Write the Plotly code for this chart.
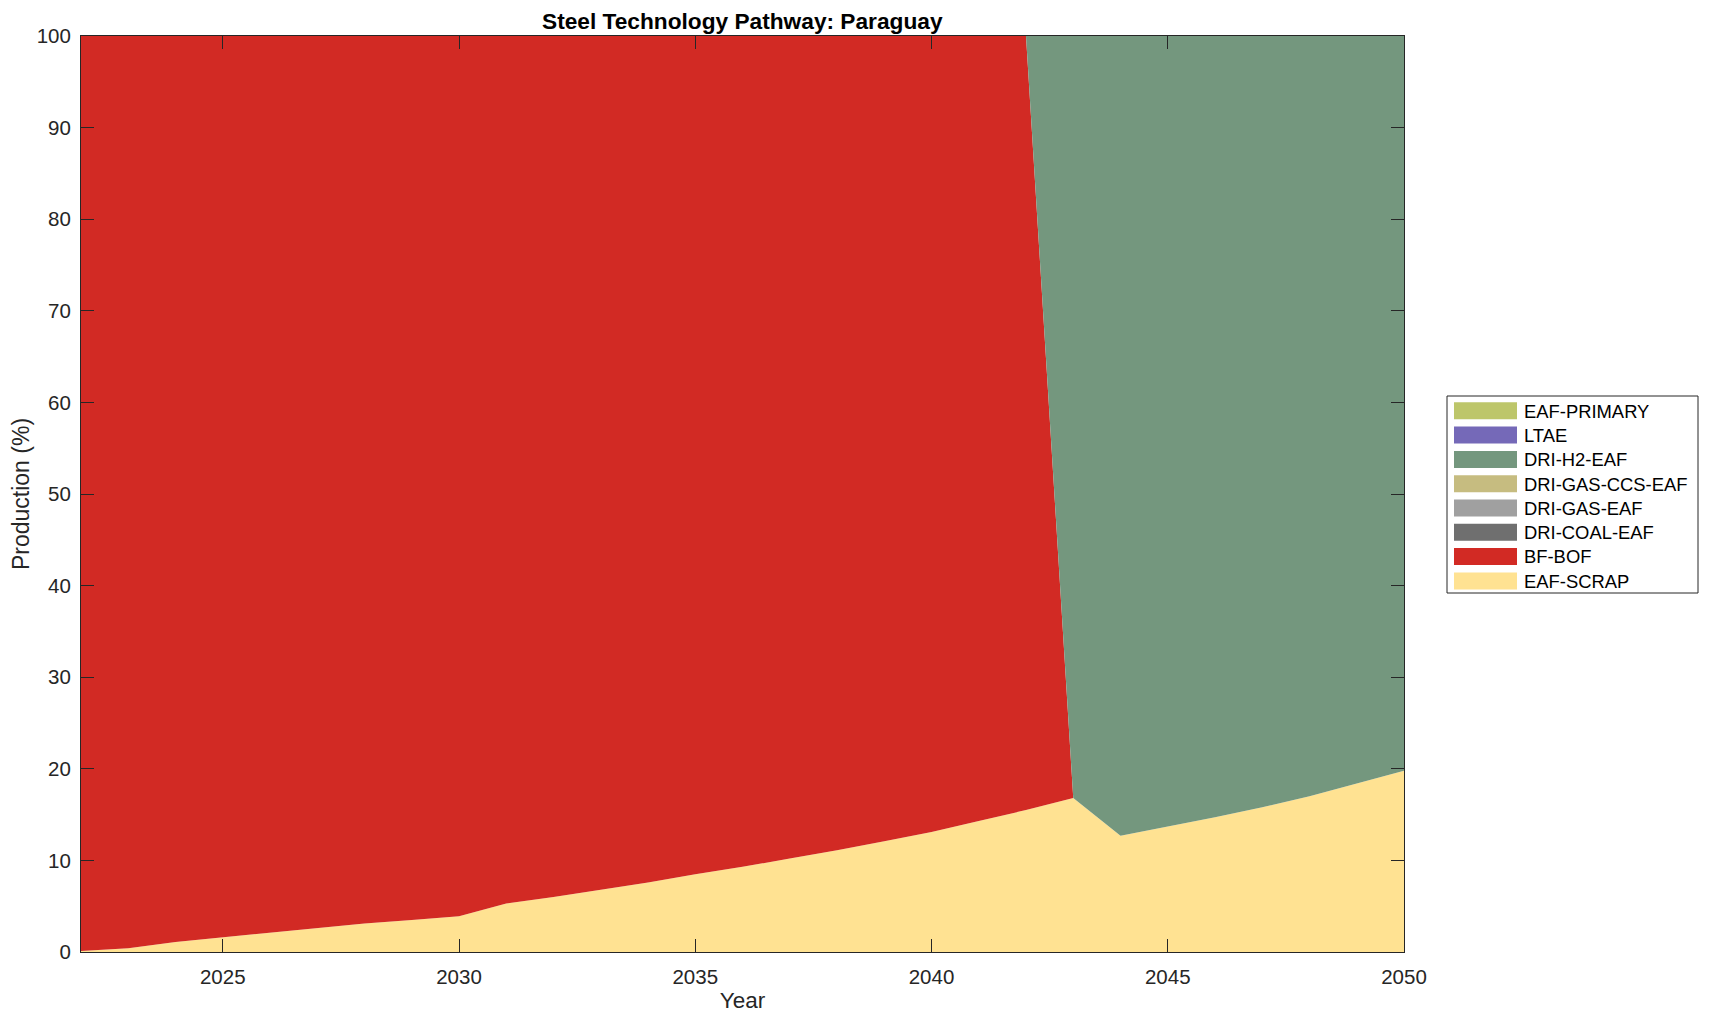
import plotly.graph_objects as go

years = list(range(2022, 2051))

tech_names = ["EAF-SCRAP", "BF-BOF", "DRI-COAL-EAF", "DRI-GAS-EAF",
              "DRI-GAS-CCS-EAF", "DRI-H2-EAF", "LTAE", "EAF-PRIMARY"]
tech_colors = ["#FFE292", "#D22A24", "#6F6F6F", "#A0A0A0",
               "#C6BC80", "#74977E", "#7569B8", "#BDC66A"]

eaf_scrap = [0.1, 0.4, 1.1, 1.6, 2.1, 2.6, 3.1, 3.5, 3.9, 5.3,
             6.0, 6.8, 7.6, 8.5, 9.3, 10.2, 11.1, 12.1, 13.1, 14.3,
             15.5, 16.8, 12.7, 13.7, 14.7, 15.8, 17.0, 18.4, 19.8]
bf_bof = [99.9, 99.6, 98.9, 98.4, 97.9, 97.4, 96.9, 96.5, 96.1, 94.7,
          94.0, 93.2, 92.4, 91.5, 90.7, 89.8, 88.9, 87.9, 86.9, 85.7,
          84.5, 0, 0, 0, 0, 0, 0, 0, 0]
dri_coal_eaf = [0] * 29
dri_gas_eaf = [0] * 29
dri_gas_ccs_eaf = [0] * 29
dri_h2_eaf = [0, 0, 0, 0, 0, 0, 0, 0, 0, 0,
              0, 0, 0, 0, 0, 0, 0, 0, 0, 0,
              0, 83.2, 87.3, 86.3, 85.3, 84.2, 83.0, 81.6, 80.2]
ltae = [0] * 29
eaf_primary = [0] * 29

series = [eaf_scrap, bf_bof, dri_coal_eaf, dri_gas_eaf,
          dri_gas_ccs_eaf, dri_h2_eaf, ltae, eaf_primary]

x_ticks = [2025, 2030, 2035, 2040, 2045, 2050]
y_ticks = list(range(0, 101, 10))

FONT = "Liberation Sans, Arial, Helvetica, sans-serif"
AX = "#262626"

fig = go.Figure()
for name, color, vals in zip(tech_names, tech_colors, series):
    fig.add_trace(go.Scatter(
        x=years, y=vals, name=name, mode="lines", stackgroup="one",
        line=dict(width=0, color=color), fillcolor=color, showlegend=False,
        hovertemplate=name + ": %{y:.1f}%<extra></extra>"))

# page body has an 8px default margin; compensate
OFF = 8
W, H = 1709 - 2 * OFF, 1021 - 2 * OFF
L, R, T, B = 81 - OFF, 1404 - OFF, 36 - OFF, 952 - OFF


def px_x(p):
    return (p - OFF - L) / (R - L)


def px_y(p):
    return (B - (p - OFF)) / (B - T)


shapes = [dict(type="rect", xref="paper", yref="paper",
               x0=px_x(1447), x1=px_x(1698), y0=px_y(593), y1=px_y(396),
               line=dict(color=AX, width=1), fillcolor="white", layer="above")]
annotations = []
legend_order = list(reversed(list(zip(tech_names, tech_colors))))
for i, (name, color) in enumerate(legend_order):
    top = 402.3 + 24.3 * i
    shapes.append(dict(type="rect", xref="paper", yref="paper",
                       x0=px_x(1454), x1=px_x(1517), y0=px_y(top + 17), y1=px_y(top),
                       line=dict(width=0), fillcolor=color, layer="above"))
    annotations.append(dict(xref="paper", yref="paper", x=px_x(1522), y=px_y(top + 8.8),
                            text=name, showarrow=False, xanchor="left", yanchor="middle",
                            font=dict(family=FONT, size=18.4, color="black")))

annotations.append(dict(xref="paper", yref="paper", x=0.5, y=1, yanchor="bottom",
                        yshift=0, showarrow=False,
                        text="<b>Steel Technology Pathway: Paraguay</b>",
                        font=dict(family=FONT, size=22.7, color="black")))

fig.update_layout(
    width=W, height=H,
    margin=dict(l=L, r=W - R, t=T, b=H - B, autoexpand=False),
    paper_bgcolor="white", plot_bgcolor="white",
    font=dict(family=FONT, color=AX),
    shapes=shapes, annotations=annotations, showlegend=False,
    xaxis=dict(range=[2022, 2050], tickvals=x_ticks, ticks="inside", ticklen=13,
               tickcolor=AX, showline=True, linecolor=AX, linewidth=1, mirror="ticks",
               showgrid=False, zeroline=False, tickfont=dict(size=20.5, color=AX),
               ticklabelstandoff=6,
               title=dict(text="Year", font=dict(size=22.5, color=AX), standoff=6)),
    yaxis=dict(range=[0, 100], tickvals=y_ticks, ticks="inside", ticklen=13,
               tickcolor=AX, showline=True, linecolor=AX, linewidth=1, mirror="ticks",
               showgrid=False, zeroline=False, tickfont=dict(size=20.5, color=AX),
               ticklabelstandoff=5,
               title=dict(text="Production (%)", font=dict(size=23, color=AX), standoff=7)),
)
fig.update_xaxes(layer="above traces")
fig.update_yaxes(layer="above traces")

fig.write_html("out.html")
